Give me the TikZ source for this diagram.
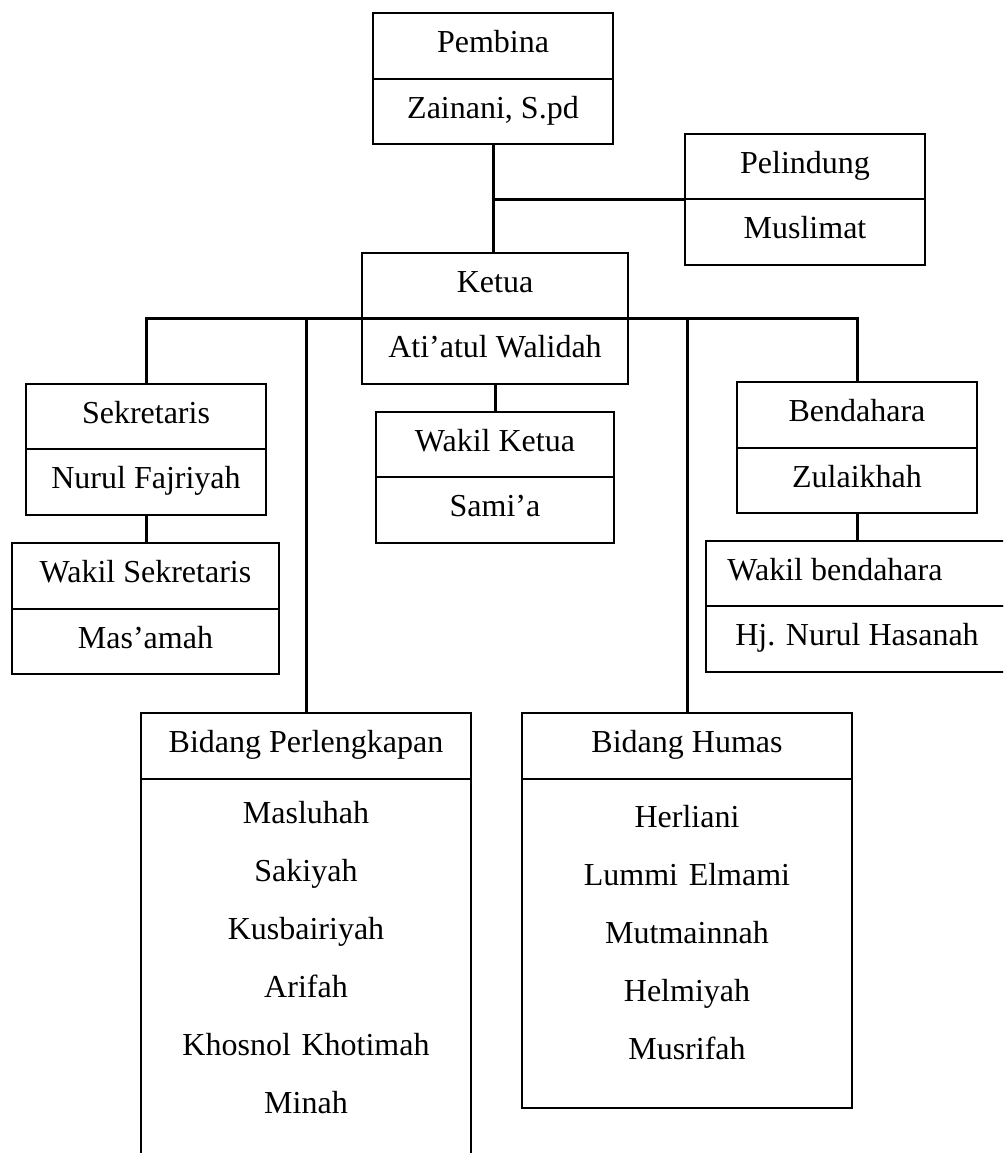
\documentclass[tikz,border=0pt]{standalone}
\usepackage{fontspec}
\setmainfont{Liberation Serif}
\usetikzlibrary{positioning}

\begin{document}
\begin{tikzpicture}[x=0.5pt, y=-0.5pt,
			every node/.style={font=\fontsize{16}{29}\selectfont},
			cell/.style={draw, line width=1pt, outer sep=0pt, inner sep=0pt, minimum height=32.75pt, text height=11pt, text depth=4.5pt},
			list/.style={draw, line width=1pt, outer sep=0pt, inner sep=0pt, text width=165pt, align=center},
			link/.style={line width=1.5pt}]
			\clip (0,0) rectangle (1003,1153);
			
			%Level 1
			\node[cell, minimum width=120pt] (pembina) at (493,46) {Pembina};
			\node[cell, minimum width=120pt, below=0pt of pembina] (zainani) {Zainani, S.pd};
			
			\node[cell, minimum width=120pt] (pelindung) at (805,166.5) {Pelindung};
			\node[cell, minimum width=120pt, below=0pt of pelindung] (muslimat) {Muslimat};
			
			%Level 2
			\node[cell, minimum width=133pt] (ketua) at (495,285.5) {Ketua};
			\node[cell, minimum width=133pt, below=0pt of ketua] (atiatul) {Ati’atul Walidah};
			
			\node[cell, minimum width=119pt] (wakilketua) at (495,444.5) {Wakil Ketua};
			\node[cell, minimum width=119pt, below=0pt of wakilketua] (samia) {Sami’a};
			
			%Level 3
			\node[cell, minimum width=120pt] (sekretaris) at (146,416.5) {Sekretaris};
			\node[cell, minimum width=120pt, below=0pt of sekretaris] (fajriyah) {Nurul Fajriyah};
			\node[cell, minimum width=133.5pt] (wakilsek) at (145.5,576) {Wakil Sekretaris};
			\node[cell, minimum width=133.5pt, below=0pt of wakilsek] (masamah) {Mas’amah};
			
			\node[cell, minimum width=120pt] (bendahara) at (857,415) {Bendahara};
			\node[cell, minimum width=120pt, below=0pt of bendahara] (zulaikhah) {Zulaikhah};
			\node[cell, minimum width=151pt] (wakilbend) at (857,573.5) {Wakil bendahara\hspace*{22pt}};
			\node[cell, minimum width=151pt, below=0pt of wakilbend] (hasanah) {Hj. Nurul Hasanah};
			
			%Level 4
			\node[cell, minimum width=165pt, minimum height=33pt] (perlengkapan) at (306,746) {Bidang Perlengkapan};
			\node[list, text height=22pt, text depth=188.5pt, below=0pt of perlengkapan] (perlnames) {Masluhah\\Sakiyah\\Kusbairiyah\\Arifah\\Khosnol Khotimah\\Minah};
			
			\node[cell, minimum width=165pt, minimum height=33pt] (humas) at (687,746) {Bidang Humas};
			\node[list, text height=24pt, text depth=140.5pt, below=0pt of humas] (humasnames) {Herliani\\Lummi Elmami\\Mutmainnah\\Helmiyah\\Musrifah};
			
			%Lines
			\draw[link] (zainani.south) -- (zainani.south |- ketua.north);
			\draw[link] (pelindung.south west) -- (pelindung.south west -| zainani.south);
			\draw[link] (atiatul.south) -- (atiatul.south |- wakilketua.north);
			\draw[link] (sekretaris.north) |- (ketua.south) -| (bendahara.north);
			\draw[link] (perlengkapan.north) -- (perlengkapan.north |- ketua.south);
			\draw[link] (humas.north) -- (humas.north |- ketua.south);
			\draw[link] (fajriyah.south) -- (fajriyah.south |- wakilsek.north);
			\draw[link] (zulaikhah.south) -- (zulaikhah.south |- wakilbend.north);
\end{tikzpicture}
\end{document}
